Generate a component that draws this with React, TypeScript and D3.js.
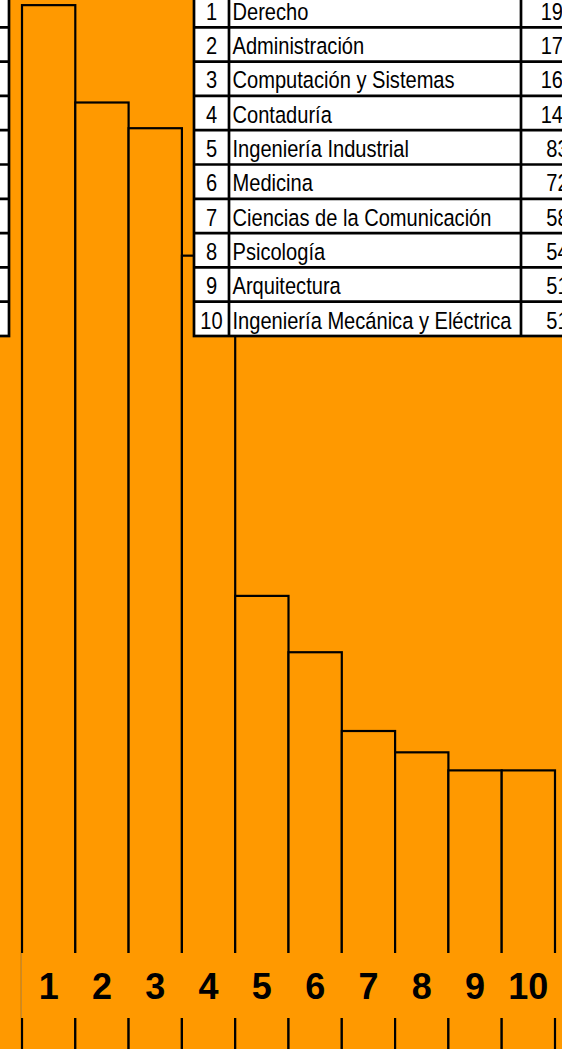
import React from "react";
import { scaleBand, scaleLinear } from "d3";

// top ten careers by enrolment
const ranks = [1, 2, 3, 4, 5, 6, 7, 8, 9, 10];
const careers = [
  "Derecho",
  "Administración",
  "Computación y Sistemas",
  "Contaduría",
  "Ingeniería Industrial",
  "Medicina",
  "Ciencias de la Comunicación",
  "Psicología",
  "Arquitectura",
  "Ingeniería Mecánica y Eléctrica",
];
const students = [1912, 1734, 1687, 1454, 832, 729, 585, 546, 513, 513];
const axisLabels = ["1", "2", "3", "4", "5", "6", "7", "8", "9", "10"];

const width = 562;
const height = 1049;
const orange = "#ff9900";
const sans = "'Liberation Sans', Arial, sans-serif";
const grid = 2.7;

// no narrow font installed, so squeeze Liberation Sans like Arial Narrow
const Narrow = ({ x, y, anchor = "start", children }: { x: number; y: number; anchor?: string; children: React.ReactNode }) => (
  <text transform={`translate(${x},${y}) scale(0.82,1)`} textAnchor={anchor}>
    {children}
  </text>
);

const App = () => {
  const xScale = scaleBand<number>().domain(ranks).range([22, 555]);
  const yScale = scaleLinear().domain([0, 2000]).range([1051, 1051 - 2000 * 0.547]);
  const rowScale = scaleBand<number>().domain(ranks).range([-7, 336]);

  // right table columns
  const col = { left: 194, num: 229, val: 521, right: 605 };
  const tableTop = rowScale.range()[0];
  const tableBottom = rowScale.range()[1];

  return (
    <svg
      width={width}
      height={height}
      style={{ position: "absolute", left: 0, top: 0, display: "block" }}
    >
      <rect width={width} height={height} fill={orange} />

      {ranks.map((r, i) => (
        <rect
          key={r}
          x={xScale(r)}
          y={yScale(students[i])}
          width={xScale.bandwidth()}
          height={yScale(0) - yScale(students[i])}
          fill={orange}
          stroke="#000"
          strokeWidth={2.2}
        />
      ))}

      {/* table cut off at the left edge */}
      <g>
        <rect x={-60} y={tableTop} width={69} height={tableBottom - tableTop} fill="#fff" stroke="#000" strokeWidth={grid} />
        {ranks.slice(1).map(r => (
          <line key={r} x1={-60} x2={9} y1={rowScale(r)} y2={rowScale(r)} stroke="#000" strokeWidth={grid} />
        ))}
      </g>

      {/* ranking table */}
      <g fontFamily={sans} fontSize={24.5} fill="#000">
        <rect
          x={col.left}
          y={tableTop}
          width={col.right - col.left}
          height={tableBottom - tableTop}
          fill="#fff"
          stroke="#000"
          strokeWidth={grid}
        />
        {ranks.slice(1).map(r => (
          <line key={r} x1={col.left} x2={col.right} y1={rowScale(r)} y2={rowScale(r)} stroke="#000" strokeWidth={grid} />
        ))}
        <line x1={col.num} x2={col.num} y1={tableTop} y2={tableBottom} stroke="#000" strokeWidth={grid} />
        <line x1={col.val} x2={col.val} y1={tableTop} y2={tableBottom} stroke="#000" strokeWidth={grid} />
        {ranks.map((r, i) => {
          const base = (rowScale(r) ?? 0) + rowScale.bandwidth() - 7.5;
          return (
            <g key={r}>
              <Narrow x={(col.left + col.num) / 2} y={base} anchor="middle">{r}</Narrow>
              <Narrow x={col.num + 3.5} y={base}>{careers[i]}</Narrow>
              <Narrow x={(col.val + col.right) / 2} y={base} anchor="middle">{students[i]}</Narrow>
            </g>
          );
        })}
      </g>

      {/* category label strip */}
      <rect x={21} y={953} width={width} height={65} fill={orange} />
      <line x1={21.5} x2={21.5} y1={953} y2={1018} stroke="#c98a2a" strokeWidth={1} />
      <g fontFamily={sans} fontWeight="bold" fontSize={36} textAnchor="middle">
        {ranks.map((r, i) => (
          <text key={r} x={(xScale(r) ?? 0) + xScale.bandwidth() / 2} y={999}>
            {axisLabels[i]}
          </text>
        ))}
      </g>
    </svg>
  );
};

export default App;
